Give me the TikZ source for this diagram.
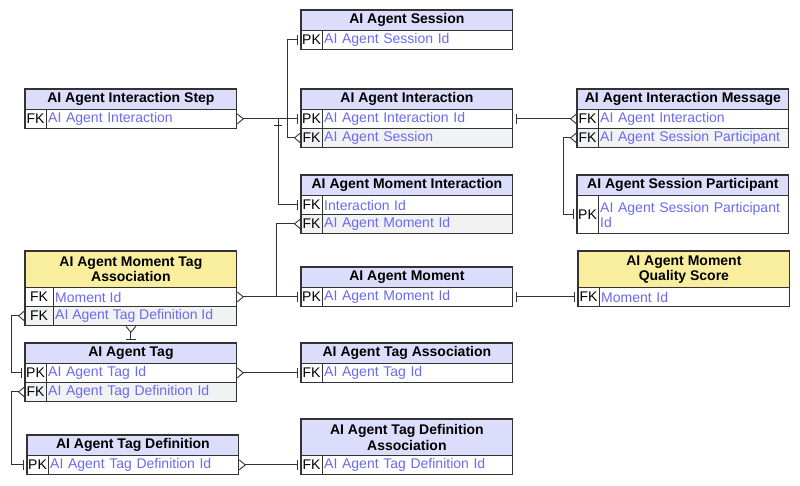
\documentclass[tikz,border=0pt]{standalone}
\usepackage{fontspec}
\setmainfont{Liberation Sans}
\usetikzlibrary{arrows.meta}
\definecolor{hdrblue}{HTML}{DCDCFB}
\definecolor{hdryel}{HTML}{F9EE9E}
\definecolor{fieldblue}{HTML}{6A6AF2}
\definecolor{rowgray}{HTML}{F1F2F4}
\definecolor{edge}{HTML}{333333}
\tikzset{
  hdr/.style={draw=edge, line width=0.8pt, anchor=north west, minimum width=211pt, inner sep=1pt, align=center, font=\fontsize{14}{15.5}\selectfont\bfseries},
  rowbox/.style={draw=edge, line width=0.8pt, anchor=north west, minimum width=211pt, inner sep=0pt},
  keytxt/.style={anchor=center, font=\fontsize{14}{15}\selectfont},
  fldtxt/.style={anchor=west, text=fieldblue, inner sep=0pt, font=\fontsize{14}{15}\selectfont},
  rel/.style={draw=edge, line width=0.9pt},
  One/.tip={Bar[width=10pt,sep=3pt]},
  Crow/.tip={Straight Barb[reversed,length=6pt,width=10pt]},
  outline/.style={draw=edge, line width=1.3pt}
}
% name, x, ytop, height, key, text, fill
\newcommand\erow[7]{%
  \node[rowbox, fill=#7, minimum height=#4pt] (#1) at (#2,#3) {};
  \draw[edge, line width=0.8pt] (#2+21,#3) -- (#2+21,#3+#4);
  \node[keytxt] at (#2+10.5,#3+#4/2+0.5) {#5};
  \node[fldtxt, text width=186pt, align=left] at (#2+23,#3+#4/2+0.5) {#6};
}
\begin{document}
\begin{tikzpicture}[x=1pt,y=-1pt]
\useasboundingbox (0,0) rectangle (800,486);
% Session
\node[hdr, fill=hdrblue, minimum height=20pt] (sessh) at (301,10) {AI Agent Session};
\erow{sess1}{301}{30}{19}{PK}{AI Agent Session Id}{white}
% Interaction
\node[hdr, fill=hdrblue, minimum height=20pt] (inth) at (301,89) {AI Agent Interaction};
\erow{int1}{301}{109}{19}{PK}{AI Agent Interaction Id}{white}
\erow{int2}{301}{128}{19}{FK}{AI Agent Session}{rowgray}
% Moment Interaction
\node[hdr, fill=hdrblue, minimum height=20pt] (mih) at (301,175) {AI Agent Moment Interaction};
\erow{mi1}{301}{195}{19}{FK}{Interaction Id}{white}
\erow{mi2}{301}{214}{19}{FK}{AI Agent Moment Id}{rowgray}
% Moment
\node[hdr, fill=hdrblue, minimum height=20pt] (momh) at (301,267) {AI Agent Moment};
\erow{mom1}{301}{287}{19}{PK}{AI Agent Moment Id}{white}
% Tag Association
\node[hdr, fill=hdrblue, minimum height=20pt] (tah) at (301,343) {AI Agent Tag Association};
\erow{ta1}{301}{363}{19}{FK}{AI Agent Tag Id}{white}
% Tag Definition Association
\node[hdr, fill=hdrblue, minimum height=36pt] (tdah) at (301,419) {AI Agent Tag Definition\\Association};
\erow{tda1}{301}{455}{19}{FK}{AI Agent Tag Definition Id}{white}
% Interaction Step
\node[hdr, fill=hdrblue, minimum height=20pt] (steph) at (25,89) {AI Agent Interaction Step};
\erow{step1}{25}{109}{19}{FK}{AI Agent Interaction}{white}
% Moment Tag Association
\node[hdr, fill=hdryel, minimum height=36pt] (mtah) at (25,251) {AI Agent Moment Tag\\Association};
\node[rowbox, fill=white, minimum height=19pt] (mta1) at (25,287) {};
\node[rowbox, fill=rowgray, minimum height=19pt] (mta2) at (25,306) {};
\draw[edge, line width=0.8pt] (53,287) -- (53,325);
\node[keytxt] at (39,297) {FK};
\node[keytxt] at (39,316) {FK};
\node[fldtxt] at (55,297) {Moment Id};
\node[fldtxt] at (55,316) {AI Agent Tag Definition Id};
% Tag
\node[hdr, fill=hdrblue, minimum height=20pt] (tagh) at (25,343) {AI Agent Tag};
\erow{tag1}{25}{363}{19}{PK}{AI Agent Tag Id}{white}
\erow{tag2}{25}{382}{19}{FK}{AI Agent Tag Definition Id}{rowgray}
% Tag Definition
\node[hdr, fill=hdrblue, minimum height=20pt] (tdh) at (27,435) {AI Agent Tag Definition};
\erow{td1}{27}{455}{19}{PK}{AI Agent Tag Definition Id}{white}
% Interaction Message
\node[hdr, fill=hdrblue, minimum height=20pt] (msgh) at (577,89) {AI Agent Interaction Message};
\erow{msg1}{577}{109}{19}{FK}{AI Agent Interaction}{white}
\erow{msg2}{577}{128}{19}{FK}{AI Agent Session Participant}{rowgray}
% Session Participant
\node[hdr, fill=hdrblue, minimum height=20pt] (parth) at (577,175) {AI Agent Session Participant};
\erow{part1}{577}{195}{38}{PK}{AI Agent Session Participant\\Id}{white}
% Quality Score
\node[hdr, fill=hdryel, minimum height=36pt] (qsh) at (578,251) {AI Agent Moment\\Quality Score};
\erow{qs1}{578}{287}{19}{FK}{Moment Id}{white}
% outlines
\draw[outline] (sessh.north west) rectangle (sess1.south east);
\draw[outline] (inth.north west) rectangle (int2.south east);
\draw[outline] (mih.north west) rectangle (mi2.south east);
\draw[outline] (momh.north west) rectangle (mom1.south east);
\draw[outline] (tah.north west) rectangle (ta1.south east);
\draw[outline] (tdah.north west) rectangle (tda1.south east);
\draw[outline] (steph.north west) rectangle (step1.south east);
\draw[outline] (mtah.north west) rectangle (mta2.south east);
\draw[outline] (tagh.north west) rectangle (tag2.south east);
\draw[outline] (tdh.north west) rectangle (td1.south east);
\draw[outline] (msgh.north west) rectangle (msg2.south east);
\draw[outline] (parth.north west) rectangle (part1.south east);
\draw[outline] (qsh.north west) rectangle (qs1.south east);
% connectors
\coordinate (j1) at (278,118.5);
\coordinate (j2) at (276,296.5);
\draw[rel,{Crow}-{One}] (step1.east) -- (int1.west);
\draw[rel,-{One}] (j1) |- (mi1.west);
\draw[rel] (274,125) -- (282,125);
\draw[rel,{One}-{Crow}] (sess1.west) -- ++(-14,0) |- (int2.west);
\draw[rel,{One}-{Crow}] (int1.east) -- (msg1.west);
\draw[rel,{Crow}-{One}] (msg2.west) -- ++(-14,0) |- (part1.west);
\draw[rel,{Crow}-{One}] (mta1.east) -- (mom1.west);
\draw[rel,-{Crow}] (j2) |- (mi2.west);
\draw[rel,{One}-{One}] (mom1.east) -- (qs1.west);
\draw[rel,{Crow}-{One}] (mta2.west) -- ++(-14,0) |- (tag1.west);
\draw[rel,{One}-{Crow}] (tagh.north) -- (tagh.north |- mta2.south);
\draw[rel,{Crow}-{One}] (tag1.east) -- (ta1.west);
\draw[rel,{Crow}-{One}] (tag2.west) -- ++(-14,0) |- (td1.west);
\draw[rel,{Crow}-{One}] (td1.east) -- (tda1.west);
\end{tikzpicture}
\end{document}
